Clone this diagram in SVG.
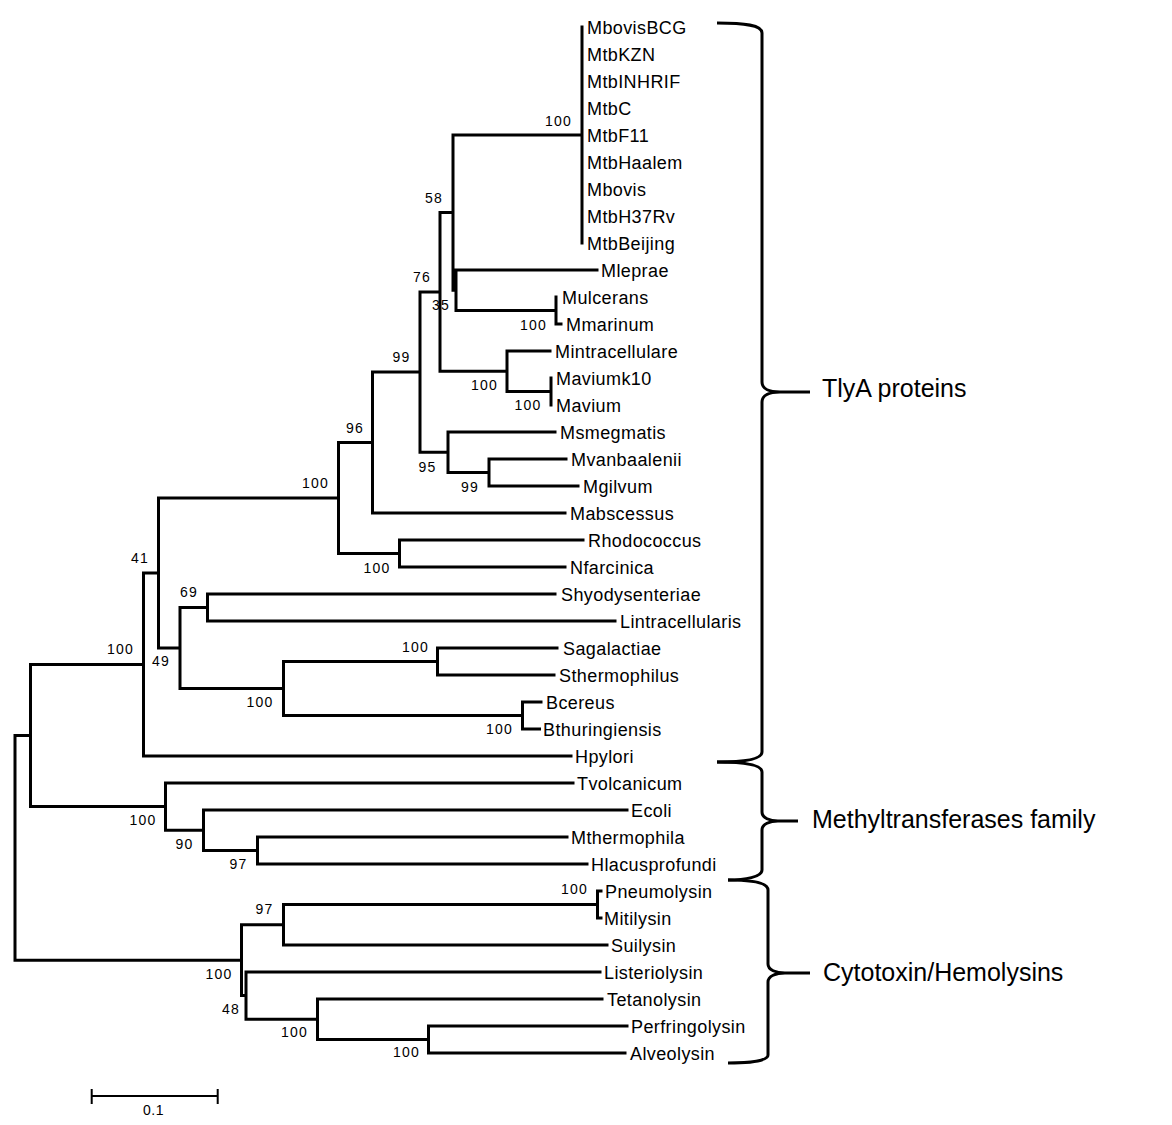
<svg xmlns="http://www.w3.org/2000/svg" width="1172" height="1125" viewBox="0 0 1172 1125">
<style>
.br{fill:none;stroke:#000;stroke-width:3;stroke-linecap:square}
.brace{fill:none;stroke:#000;stroke-width:3}
.leaf{font-family:"Liberation Sans",Arial,sans-serif;font-size:18px;letter-spacing:0.4px;fill:#000}
.bs{font-family:"Liberation Sans",Arial,sans-serif;font-size:14px;letter-spacing:1.2px;fill:#000}
.grp{font-family:"Liberation Sans",Arial,sans-serif;font-size:25px;fill:#000}
</style>
<rect width="1172" height="1125" fill="#fff"/>
<g id="connectors">
<path class="br" d="M582,27V243 M453,135H582 M456,270H597 M456,310.5H556 M556,297V324 M556,324H561 M453,290.25H456 M456,270V310.5 M453,135V290.25 M440,212.6H453 M440,212.6V371.25 M440,371.25H507 M507,351V391.5 M507,351H550 M507,391.5H551 M551,378V405 M420,292H440 M420,292V452.25 M420,452.25H448 M448,432V472.5 M448,432H555 M448,472.5H489 M489,459V486 M489,459H566 M489,486H578 M372.5,372H420 M372.5,372V513 M372.5,513H565 M338.5,442.5H372.5 M338.5,442.5V553.5 M338.5,553.5H399.5 M399.5,540V567 M399.5,540H583 M399.5,567H565"/>
<path class="br" d="M158.5,498H338.5 M158.5,498V648 M158.5,648H180 M180,607.5V688.5 M180,607.5H207.5 M207.5,594V621 M207.5,594H555 M207.5,621H615 M180,688.5H283.5 M283.5,661.5V715.5 M283.5,661.5H437.5 M437.5,648V675 M437.5,648H557 M437.5,675H554 M283.5,715.5H522.5 M522.5,702V729 M522.5,702H541 M522.5,729H539.5 M143.5,573H158.5 M143.5,573V756 M143.5,756H571"/>
<path class="br" d="M30.5,664.5H143.5 M30.5,664.5V806.6 M30.5,806.6H165.5 M165.5,783V830.25 M165.5,783H573 M165.5,830.25H203.5 M203.5,810V850.5 M203.5,810H627 M203.5,850.5H257.5 M257.5,837V864 M257.5,837H567 M257.5,864H587"/>
<path class="br" d="M15,735.5H30.5 M15,735.5V960.2 M15,960.2H241.5 M241.5,924.75V995.6 M241.5,924.75H283.5 M283.5,904.5V945 M283.5,904.5H597.5 M597.5,891V918 M597.5,891H601 M597.5,918H601 M283.5,945H607 M241.5,995.6H246 M246,972V1019.25 M246,972H600 M246,1019.25H317.5 M317.5,999V1039.5 M317.5,999H602 M317.5,1039.5H428.5 M428.5,1026V1053 M428.5,1026H627 M428.5,1053H625"/>
</g>
<g id="leaves">
<g id="n-MbovisBCG"><text class="leaf" x="587" y="33.5">MbovisBCG</text></g>
<g id="n-MtbKZN"><text class="leaf" x="587" y="60.5">MtbKZN</text></g>
<g id="n-MtbINHRIF"><text class="leaf" x="587" y="87.5">MtbINHRIF</text></g>
<g id="n-MtbC"><text class="leaf" x="587" y="114.5">MtbC</text></g>
<g id="n-MtbF11"><text class="leaf" x="587" y="141.5">MtbF11</text></g>
<g id="n-MtbHaalem"><text class="leaf" x="587" y="168.5">MtbHaalem</text></g>
<g id="n-Mbovis"><text class="leaf" x="587" y="195.5">Mbovis</text></g>
<g id="n-MtbH37Rv"><text class="leaf" x="587" y="222.5">MtbH37Rv</text></g>
<g id="n-MtbBeijing"><text class="leaf" x="587" y="249.5">MtbBeijing</text></g>
<g id="n-Mleprae"><text class="leaf" x="601" y="276.5">Mleprae</text></g>
<g id="n-Mulcerans"><text class="leaf" x="562" y="303.5">Mulcerans</text></g>
<g id="n-Mmarinum"><text class="leaf" x="566" y="330.5">Mmarinum</text></g>
<g id="n-Mintracellulare"><text class="leaf" x="555" y="357.5">Mintracellulare</text></g>
<g id="n-Maviumk10"><text class="leaf" x="556" y="384.5">Maviumk10</text></g>
<g id="n-Mavium"><text class="leaf" x="556" y="411.5">Mavium</text></g>
<g id="n-Msmegmatis"><text class="leaf" x="560" y="438.5">Msmegmatis</text></g>
<g id="n-Mvanbaalenii"><text class="leaf" x="571" y="465.5">Mvanbaalenii</text></g>
<g id="n-Mgilvum"><text class="leaf" x="583" y="492.5">Mgilvum</text></g>
<g id="n-Mabscessus"><text class="leaf" x="570" y="519.5">Mabscessus</text></g>
<g id="n-Rhodococcus"><text class="leaf" x="588" y="546.5">Rhodococcus</text></g>
<g id="n-Nfarcinica"><text class="leaf" x="570" y="573.5">Nfarcinica</text></g>
<g id="n-Shyodysenteriae"><text class="leaf" x="561" y="600.5">Shyodysenteriae</text></g>
<g id="n-Lintracellularis"><text class="leaf" x="620" y="627.5">Lintracellularis</text></g>
<g id="n-Sagalactiae"><text class="leaf" x="563" y="654.5">Sagalactiae</text></g>
<g id="n-Sthermophilus"><text class="leaf" x="559" y="681.5">Sthermophilus</text></g>
<g id="n-Bcereus"><text class="leaf" x="546" y="708.5">Bcereus</text></g>
<g id="n-Bthuringiensis"><text class="leaf" x="543" y="735.5">Bthuringiensis</text></g>
<g id="n-Hpylori"><text class="leaf" x="575" y="762.5">Hpylori</text></g>
<g id="n-Tvolcanicum"><text class="leaf" x="577" y="789.5">Tvolcanicum</text></g>
<g id="n-Ecoli"><text class="leaf" x="631" y="816.5">Ecoli</text></g>
<g id="n-Mthermophila"><text class="leaf" x="571" y="843.5">Mthermophila</text></g>
<g id="n-Hlacusprofundi"><text class="leaf" x="591" y="870.5">Hlacusprofundi</text></g>
<g id="n-Pneumolysin"><text class="leaf" x="605" y="897.5">Pneumolysin</text></g>
<g id="n-Mitilysin"><text class="leaf" x="604" y="924.5">Mitilysin</text></g>
<g id="n-Suilysin"><text class="leaf" x="611" y="951.5">Suilysin</text></g>
<g id="n-Listeriolysin"><text class="leaf" x="604" y="978.5">Listeriolysin</text></g>
<g id="n-Tetanolysin"><text class="leaf" x="607" y="1005.5">Tetanolysin</text></g>
<g id="n-Perfringolysin"><text class="leaf" x="631" y="1032.5">Perfringolysin</text></g>
<g id="n-Alveolysin"><text class="leaf" x="630" y="1059.5">Alveolysin</text></g>
</g>
<g id="bootstrap">
<text class="bs" x="545" y="126">100</text>
<text class="bs" x="425" y="203">58</text>
<text class="bs" x="432" y="310">35</text>
<text class="bs" x="520" y="330">100</text>
<text class="bs" x="413" y="282">76</text>
<text class="bs" x="392.5" y="362">99</text>
<text class="bs" x="471" y="390">100</text>
<text class="bs" x="514.5" y="410">100</text>
<text class="bs" x="346" y="433">96</text>
<text class="bs" x="418.5" y="472">95</text>
<text class="bs" x="461" y="492">99</text>
<text class="bs" x="302" y="488">100</text>
<text class="bs" x="363.5" y="573">100</text>
<text class="bs" x="131" y="563">41</text>
<text class="bs" x="180" y="597">69</text>
<text class="bs" x="152" y="666">49</text>
<text class="bs" x="402" y="652">100</text>
<text class="bs" x="246.5" y="707">100</text>
<text class="bs" x="486" y="734">100</text>
<text class="bs" x="107" y="654">100</text>
<text class="bs" x="129.5" y="825">100</text>
<text class="bs" x="175.5" y="848.5">90</text>
<text class="bs" x="229.5" y="868.5">97</text>
<text class="bs" x="255.5" y="914">97</text>
<text class="bs" x="561" y="894">100</text>
<text class="bs" x="205.5" y="978.5">100</text>
<text class="bs" x="222" y="1013.5">48</text>
<text class="bs" x="281" y="1037">100</text>
<text class="bs" x="393" y="1057">100</text>
</g>
<g id="group-tlya">
<path class="brace" d="M717,23 C745,23 762,25 762,33 V382 C762,389 770,392 780,392 H810 M780,392 C770,392 762,395 762,402 V752 C762,759 745,762 717,762"/>
<text class="grp" x="822" y="397">TlyA proteins</text>
</g>
<g id="group-methyl">
<path class="brace" d="M717,762 C745,762 762,765 762,772 V812 C762,818 770,821 778,821 H798 M778,821 C770,821 762,824 762,830 V870 C762,877 745,880 728,880"/>
<text class="grp" x="812" y="828">Methyltransferases family</text>
</g>
<g id="group-cyto">
<path class="brace" d="M728,880 C750,880 768,882 768,890 V964 C768,970 776,973 785,973 H810 M785,973 C776,973 768,976 768,982 V1055 C768,1061 750,1063 728,1063"/>
<text class="grp" x="823" y="981">Cytotoxin/Hemolysins</text>
</g>
<g id="scale-bar">
<path class="br" stroke-linecap="butt" d="M91.7,1096H217.7 M91.7,1090V1103 M217.7,1090V1103" style="stroke-width:2"/>
<text class="bs" x="143" y="1115" style="letter-spacing:0.5px">0.1</text>
</g>
</svg>
